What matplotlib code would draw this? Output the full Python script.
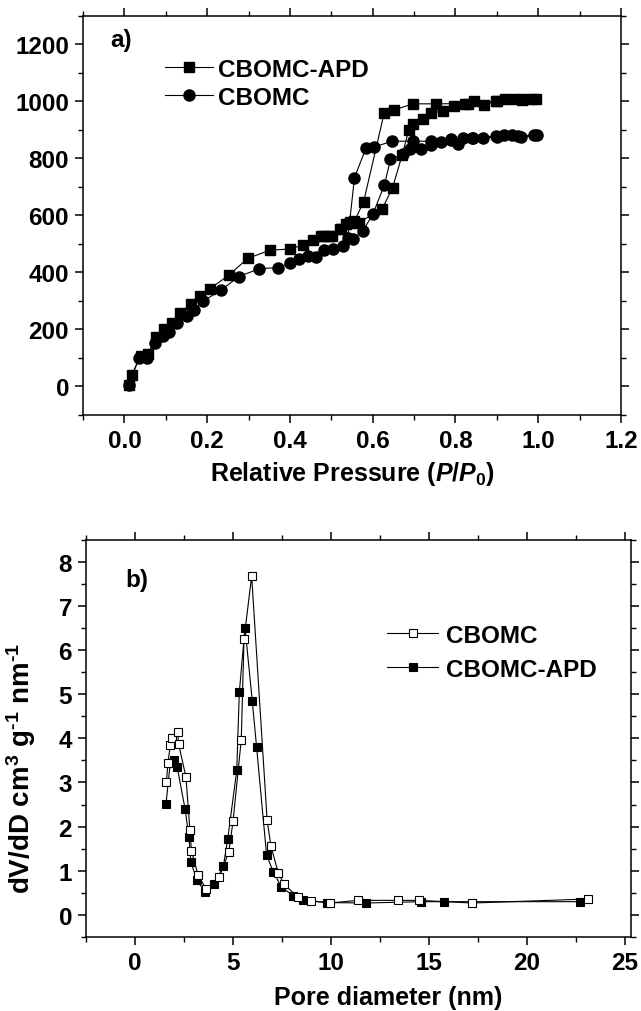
import matplotlib
matplotlib.use("Agg")
import matplotlib.pyplot as plt
from matplotlib.ticker import MultipleLocator

plt.rcParams['font.family'] = ['Liberation Sans', 'DejaVu Sans']
plt.rcParams['font.weight'] = 'bold'
plt.rcParams['mathtext.fontset'] = 'custom'
plt.rcParams['mathtext.rm'] = 'Liberation Sans:bold'
plt.rcParams['mathtext.bf'] = 'Liberation Sans:bold'
plt.rcParams['mathtext.it'] = 'Liberation Sans:italic:bold'

# ---------------- data: panel a (N2 isotherms) ----------------
apd_p = [0.010, 0.018, 0.039, 0.056, 0.077, 0.095, 0.115, 0.135, 0.160, 0.183,
         0.207, 0.252, 0.298, 0.352, 0.401, 0.431, 0.456, 0.480, 0.502, 0.520,
         0.536, 0.546, 0.566, 0.623, 0.648, 0.671, 0.687, 0.697, 0.721, 0.741,
         0.769, 0.796, 0.824, 0.846, 0.868, 0.898, 0.920, 0.942, 0.963, 0.985,
         0.995,
         0.960, 0.900, 0.830, 0.752, 0.697, 0.651, 0.628, 0.578, 0.556, 0.544,
         0.524, 0.495, 0.475]
apd_v = [6, 41, 107, 114, 173, 200, 223, 259, 288, 317,
         343, 390, 449, 478, 482, 496, 514, 529, 526, 552,
         570, 578, 574, 623, 697, 810, 899, 919, 939, 960,
         965, 983, 991, 1000, 986, 1000, 1009, 1009, 1009, 1009,
         1009,
         1005, 1000, 992, 991, 991, 969, 960, 647, 580, 572,
         551, 527, 527]

cb_p = [0.010, 0.036, 0.055, 0.074, 0.093, 0.107, 0.126, 0.151, 0.169, 0.191,
        0.233, 0.276, 0.326, 0.372, 0.399, 0.423, 0.443, 0.463, 0.483, 0.503,
        0.528, 0.552, 0.576, 0.600, 0.628, 0.643, 0.673, 0.690, 0.717, 0.740,
        0.765, 0.789, 0.806, 0.819, 0.843, 0.866, 0.898, 0.918, 0.937, 0.959,
        0.990,
        0.996, 0.950, 0.900, 0.840, 0.790, 0.740, 0.697, 0.647, 0.604, 0.584,
        0.556, 0.540]
cb_v = [6, 101, 101, 154, 177, 191, 224, 247, 268, 300,
        337, 385, 413, 417, 432, 446, 457, 455, 478, 483,
        493, 518, 545, 603, 705, 796, 814, 834, 834, 845,
        857, 869, 849, 870, 870, 870, 878, 880, 880, 876,
        880,
        880, 878, 876, 872, 865, 860, 860, 860, 840, 837,
        732, 520]

# ---------------- data: panel b (pore size distribution) ----------------
cb_d = [1.60, 1.68, 1.80, 1.90, 2.17, 2.22, 2.60, 2.80, 2.88, 3.22,
        3.63, 4.29, 4.78, 5.00, 5.42, 5.56, 5.95, 6.74, 6.93, 7.30,
        7.59, 8.32, 8.98, 9.96, 11.35, 13.4, 14.5, 17.2, 23.1]
cb_dv = [3.01, 3.44, 3.85, 4.01, 4.15, 3.88, 3.12, 1.92, 1.45, 0.90,
         0.59, 0.85, 1.42, 2.12, 3.97, 6.25, 7.68, 2.14, 1.57, 0.96,
         0.70, 0.40, 0.32, 0.27, 0.33, 0.33, 0.33, 0.27, 0.36]

apd_d = [1.58, 1.80, 2.00, 2.15, 2.55, 2.75, 2.85, 3.16, 3.58, 4.05,
         4.51, 4.73, 5.19, 5.32, 5.61, 5.98, 6.20, 6.71, 7.05, 7.47,
         8.06, 8.57, 9.80, 11.78, 14.6, 15.75, 22.7]
apd_dv = [2.51, 3.45, 3.50, 3.35, 2.41, 1.77, 1.19, 0.79, 0.51, 0.70,
          1.11, 1.72, 3.28, 5.04, 6.51, 4.85, 3.81, 1.36, 0.98, 0.63,
          0.44, 0.33, 0.28, 0.27, 0.30, 0.30, 0.30]

W, H = 641, 1012
fig = plt.figure(figsize=(W / 100, H / 100), dpi=100)

def frac(l, t, r, b):
    return [l / W, 1 - b / H, (r - l) / W, (b - t) / H]

FS = 17.5

def style(ax):
    for s in ax.spines.values():
        s.set_linewidth(1.1)
    ax.tick_params(axis='both', which='major', direction='out', length=6, width=1.1,
                   labelsize=FS, pad=4)
    ax.tick_params(axis='both', which='minor', direction='out', length=3.5, width=1.0)
    ax.tick_params(axis='x', which='both', top=True, labeltop=False)
    ax.tick_params(axis='y', which='both', right=True, labelright=False)
    for lab in ax.get_xticklabels() + ax.get_yticklabels():
        lab.set_fontweight('bold')

# ---------------- panel a ----------------
ax1 = fig.add_axes(frac(83, 16.7, 621, 416))
ax1.plot(apd_p, apd_v, color='black', lw=0.8, marker='s', ms=7, mfc='black',
         mec='black', label='CBOMC-APD')
ax1.plot(cb_p, cb_v, color='black', lw=0.8, marker='o', ms=8, mfc='black',
         mec='black', label='CBOMC')
ax1.set_xlim(-0.1, 1.2)
ax1.set_ylim(-100, 1300)
ax1.set_yticks([0, 200, 400, 600, 800, 1000, 1200])
ax1.set_xticks([0.0, 0.2, 0.4, 0.6, 0.8, 1.0, 1.2])
ax1.set_xticklabels(['0.0', '0.2', '0.4', '0.6', '0.8', '1.0', '1.2'])
ax1.xaxis.set_minor_locator(MultipleLocator(0.1))
ax1.yaxis.set_minor_locator(MultipleLocator(100))
style(ax1)
ax1.set_xlabel(r'Relative Pressure ($P$/$P_{0}$)', fontsize=18, fontweight='bold',
               labelpad=5)
ax1.text(0.05, 0.94, 'a)', transform=ax1.transAxes, fontsize=FS, fontweight='bold',
         ha='left', va='center')
leg1 = ax1.legend(loc='upper left', bbox_to_anchor=(0.152, 0.895), frameon=False,
                  fontsize=FS, handlelength=2.0, handletextpad=0.17,
                  labelspacing=0.22, borderpad=0, borderaxespad=0)
for t in leg1.get_texts():
    t.set_fontweight('bold')

# ---------------- panel b ----------------
ax2 = fig.add_axes(frac(86, 540.7, 631, 938))
ax2.plot(apd_d, apd_dv, color='black', lw=0.8, marker='s', ms=6, mfc='black',
         mec='black', mew=0.8, label='CBOMC-APD', zorder=2)
ax2.plot(cb_d, cb_dv, color='black', lw=0.8, marker='s', ms=6, mfc='white',
         mec='black', mew=0.8, label='CBOMC', zorder=3)
ax2.set_xlim(-2.5, 25.3)
ax2.set_ylim(-0.5, 8.5)
ax2.set_xticks([0, 5, 10, 15, 20, 25])
ax2.set_yticks(list(range(0, 9)))
ax2.xaxis.set_minor_locator(MultipleLocator(2.5))
ax2.yaxis.set_minor_locator(MultipleLocator(0.5))
style(ax2)
ax2.set_xlabel('Pore diameter (nm)', fontsize=18, fontweight='bold')
ax2.xaxis.set_label_coords(0.554, -0.122)
ax2.set_ylabel('dV/dD cm$^{3}$ g$^{\u20101}$ nm$^{\u20101}$', fontsize=20,
               fontweight='bold')
ax2.yaxis.set_label_coords(-0.088, 0.428)
ax2.text(0.072, 0.90, 'b)', transform=ax2.transAxes, fontsize=FS, fontweight='bold',
         ha='left', va='center')
h, l = ax2.get_legend_handles_labels()
leg2 = ax2.legend([h[1], h[0]], [l[1], l[0]], loc='upper left',
                  bbox_to_anchor=(0.553, 0.788), frameon=False, fontsize=FS,
                  handlelength=2.1, handletextpad=0.3, labelspacing=0.45,
                  borderpad=0, borderaxespad=0)
for t in leg2.get_texts():
    t.set_fontweight('bold')

fig.savefig('out.png', dpi=100)
